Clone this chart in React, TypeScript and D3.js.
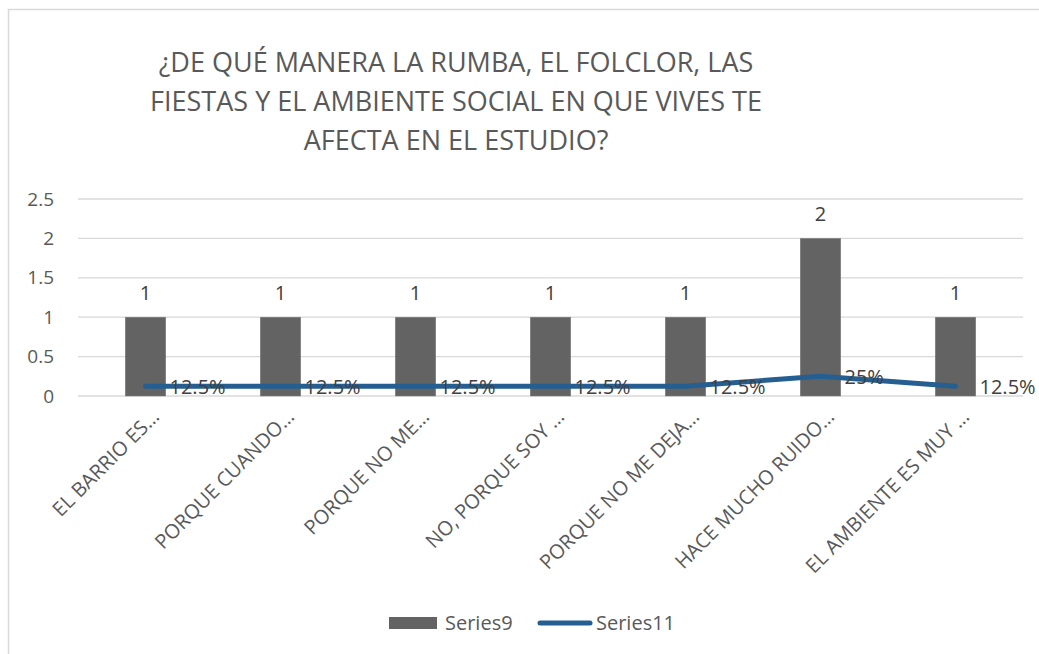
import React from 'react';
import * as d3 from 'd3';

const title = [
  '¿DE QUÉ MANERA LA RUMBA, EL FOLCLOR, LAS',
  'FIESTAS Y EL AMBIENTE SOCIAL EN QUE VIVES TE',
  'AFECTA EN EL ESTUDIO?',
];
const categories = [
  'EL BARRIO ES…',
  'PORQUE CUANDO…',
  'PORQUE NO ME…',
  'NO, PORQUE SOY …',
  'PORQUE NO ME DEJA…',
  'HACE MUCHO RUIDO…',
  'EL AMBIENTE ES MUY …',
];
const series9 = [1, 1, 1, 1, 1, 2, 1];
const series11 = [0.125, 0.125, 0.125, 0.125, 0.125, 0.25, 0.125];
const yTicks = [0, 0.5, 1, 1.5, 2, 2.5];

const width = 1039;
const height = 654;
const margin = { top: 199, right: 16, bottom: 258, left: 78 };
const font = '"Open Sans", sans-serif';
const textColor = '#595959';
const barColor = '#636363';
const lineColor = '#255e91';

const App = () => {
  const x = d3
    .scaleBand<string>()
    .domain(categories)
    .range([margin.left, width - margin.right]);

  const y = d3
    .scaleLinear()
    .domain([0, 2.5])
    .range([height - margin.bottom, margin.top]);

  const barW = x.bandwidth() * 0.3;
  const cx = (c: string) => (x(c) ?? 0) + x.bandwidth() / 2;

  const line = d3
    .line<number>()
    .x((_, i) => cx(categories[i]))
    .y((d) => y(d));

  return (
    <svg
      width={width}
      height={height}
      style={{ position: 'absolute', left: 0, top: 0, background: '#fff' }}
      fontFamily={font}
    >
      {/* chart frame, right and bottom edges fall off the picture */}
      <path d={`M8.5,${height} V9.5 H${width}`} fill="none" stroke="#d9d9d9" strokeWidth={1.5} />

      {title.map((t, i) => (
        <text key={t} x={456} y={72 + i * 39} textAnchor="middle" fontSize={27} fill={textColor}>
          {t}
        </text>
      ))}

      {/* gridlines + y ticks */}
      {yTicks.map((t) => (
        <g key={t}>
          <line
            x1={margin.left}
            x2={width - margin.right}
            y1={y(t)}
            y2={y(t)}
            stroke="#d9d9d9"
            strokeWidth={1.3}
          />
          <text x={54} y={y(t)} dy="0.35em" textAnchor="end" fontSize={19} fill={textColor}>
            {t}
          </text>
        </g>
      ))}

      {/* bars */}
      {categories.map((c, i) => (
        <g key={c}>
          <rect
            x={cx(c) - barW / 2}
            y={y(series9[i])}
            width={barW}
            height={y(0) - y(series9[i])}
            fill={barColor}
            stroke="#7f7f7f"
            strokeWidth={0.5}
          />
          <text x={cx(c)} y={y(series9[i]) - 17} textAnchor="middle" fontSize={20} fill="#404040">
            {series9[i]}
          </text>
        </g>
      ))}

      <path
        d={line(series11) ?? ''}
        fill="none"
        stroke={lineColor}
        strokeWidth={5}
        strokeLinecap="round"
        strokeLinejoin="round"
      />

      {series11.map((v, i) => (
        <text
          key={i}
          x={cx(categories[i]) + 24}
          y={y(v) + 1}
          dy="0.35em"
          fontSize={20}
          fill="#404040"
        >
          {d3.format('.1~%')(v)}
        </text>
      ))}

      {/* category labels */}
      {categories.map((c) => (
        <text
          key={c}
          transform={`translate(${cx(c) + 15},${y(0) + 22}) rotate(-45)`}
          textAnchor="end"
          fontSize={20}
          fill={textColor}
        >
          {c}
        </text>
      ))}

      {/* legend */}
      <rect x={389} y={617} width={48} height={12} fill={barColor} />
      <text x={445} y={623} dy="0.35em" fontSize={20} fill={textColor}>
        Series9
      </text>
      <line x1={540} x2={590} y1={623} y2={623} stroke={lineColor} strokeWidth={5} strokeLinecap="round" />
      <text x={596} y={623} dy="0.35em" fontSize={20} fill={textColor}>
        Series11
      </text>
    </svg>
  );
};

export default App;
